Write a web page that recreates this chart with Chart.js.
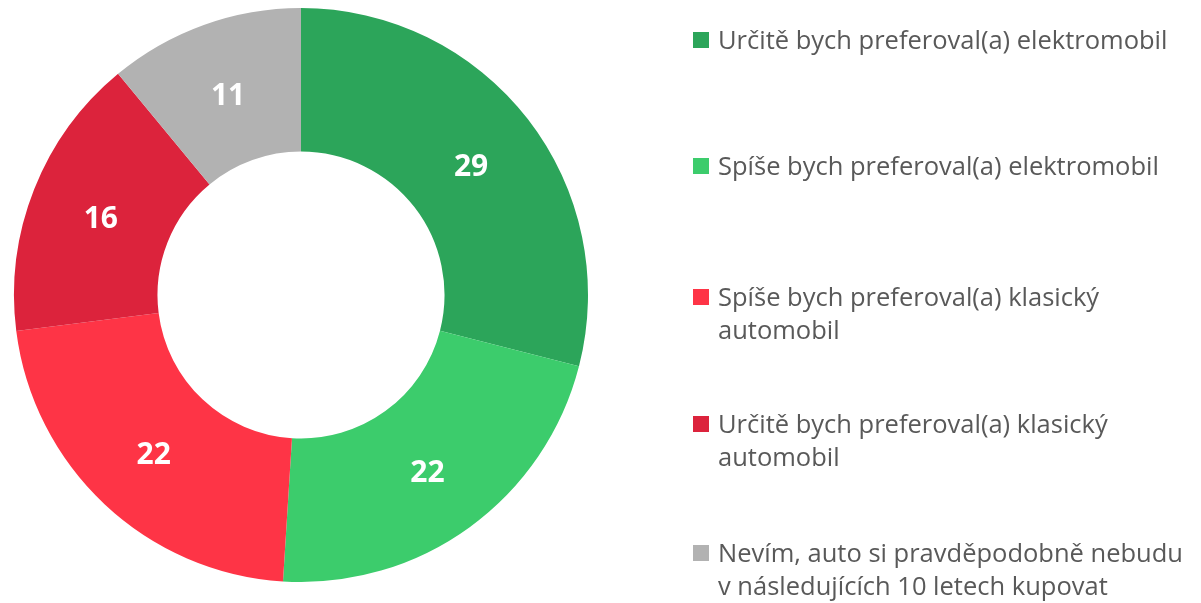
<!DOCTYPE html>
<html><head><meta charset="utf-8">
<script src="https://cdn.jsdelivr.net/npm/chart.js@4/dist/chart.umd.min.js"></script>
<style>
html,body{margin:0;padding:0;background:#fff;width:1201px;height:603px;overflow:hidden;}
#wrap{position:absolute;left:0;top:0;width:602px;height:590px;}
#legend{position:absolute;left:0;top:0;width:1201px;height:603px;pointer-events:none;font-family:"Open Sans",sans-serif;color:#595959;}
.item{position:absolute;left:693px;}
.sw{position:absolute;left:0;width:16px;height:16px;}
.tx{position:absolute;left:25px;white-space:nowrap;font-size:25.5px;line-height:33px;}
</style></head><body>
<div id="wrap"><canvas id="c"></canvas></div>
<div id="legend"></div>
<script>
const categories = [
  ["Určitě bych preferoval(a) elektromobil"],
  ["Spíše bych preferoval(a) elektromobil"],
  ["Spíše bych preferoval(a) klasický", "automobil"],
  ["Určitě bych preferoval(a) klasický", "automobil"],
  ["Nevím, auto si pravděpodobně nebudu", "v následujících 10 letech kupovat"]
];
const values = [29, 22, 22, 16, 11];
const colors = ["#2ca55a", "#3ccc6c", "#fe3446", "#dc233c", "#b2b2b2"];
const legendTops = [23, 149, 280, 407, 536];

const labelPlugin = {
  id: 'sliceLabels',
  afterDatasetsDraw(chart) {
    const ctx = chart.ctx;
    const meta = chart.getDatasetMeta(0);
    ctx.save();
    ctx.fillStyle = '#ffffff';
    ctx.font = 'bold 30px "Open Sans", sans-serif';
    ctx.textAlign = 'center';
    ctx.textBaseline = 'middle';
    meta.data.forEach((arc, i) => {
      const p = arc.tooltipPosition();
      ctx.fillText(String(chart.data.datasets[0].data[i]), p.x, p.y + 4);
    });
    ctx.restore();
  }
};

new Chart(document.getElementById('c'), {
  type: 'doughnut',
  data: {
    labels: categories.map(l => l.join(' ')),
    datasets: [{ data: values, backgroundColor: colors, borderWidth: 0 }]
  },
  options: {
    responsive: true,
    maintainAspectRatio: false,
    animation: false,
    cutout: '50%',
    layout: { padding: 8 },
    plugins: { legend: { display: false }, tooltip: { enabled: false } }
  },
  plugins: [labelPlugin]
});

const lg = document.getElementById('legend');
categories.forEach((lines, i) => {
  const it = document.createElement('div');
  it.className = 'item';
  it.style.top = legendTops[i] + 'px';
  const sw = document.createElement('div');
  sw.className = 'sw';
  sw.style.background = colors[i];
  sw.style.top = '9px';
  const tx = document.createElement('div');
  tx.className = 'tx';
  tx.style.top = '0px';
  tx.innerHTML = lines.map(s => s.replace(/&/g,'&amp;').replace(/</g,'&lt;')).join('<br>');
  it.appendChild(sw); it.appendChild(tx);
  lg.appendChild(it);
});
</script>
</body></html>
